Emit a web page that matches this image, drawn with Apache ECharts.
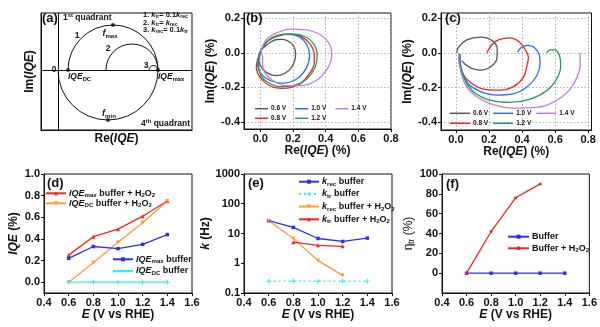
<!DOCTYPE html>
<html><head><meta charset="utf-8">
<script src="https://cdn.jsdelivr.net/npm/echarts@6/dist/echarts.min.js"></script>
<style>html,body{margin:0;padding:0;background:#fff}#c{width:600px;height:327px}</style>
</head><body><div id="c"></div>
<script>
// ================= DATA =================
// (a) schematic: arcs [centre on Re axis, radius, half (1 = upper, -1 = lower)]
const aArcs = [[0.55, 0.45, 1], [0.50, 0.50, -1], [0.74, 0.26, 1], [0.955, 0.045, 1]];
// (a) marked points: IQE_DC, f_max, IQE_max, f_min
const aPoints = [[0.10, 0], [0.55, 0.45], [1.00, 0], [0.50, -0.50]];

// (b) Re/Im(IQE) loops, buffer
const b06 = [[0.0,0.01],[-0.012,-0.035],[0.012,-0.09],[0.05,-0.12],[0.097,-0.132],[0.15,-0.118],[0.19,-0.085],[0.212,-0.04],[0.216,-0.006],[0.205,0.038],[0.175,0.065],[0.135,0.078],[0.1,0.077],[0.06,0.06],[0.02,0.03],[0.0,0.01]];
const b08 = [[0.005,0.01],[0.045,0.07],[0.1,0.1],[0.18,0.11],[0.25,0.095],[0.305,0.05],[0.33,-0.01],[0.33,-0.06],[0.3,-0.12],[0.25,-0.175],[0.19,-0.2],[0.13,-0.205],[0.07,-0.195],[0.02,-0.165],[-0.015,-0.12],[-0.025,-0.08],[-0.015,-0.035],[0.005,0.01]];
const b10 = [[0.005,0.015],[0.035,0.062],[0.097,0.095],[0.17,0.108],[0.24,0.092],[0.285,0.045],[0.302,-0.015],[0.28,-0.09],[0.225,-0.15],[0.14,-0.175],[0.06,-0.16],[0.005,-0.122],[-0.016,-0.073],[-0.01,-0.025],[0.005,0.015]];
const b12 = [[0.005,0.015],[0.056,0.075],[0.128,0.102],[0.21,0.108],[0.282,0.09],[0.333,0.043],[0.348,-0.015],[0.335,-0.083],[0.285,-0.15],[0.2,-0.19],[0.118,-0.195],[0.045,-0.17],[0.004,-0.132],[-0.01,-0.073],[-0.006,-0.025],[0.005,0.015]];
const b14 = [[0.005,0.01],[0.035,0.075],[0.097,0.114],[0.18,0.137],[0.28,0.133],[0.375,0.1],[0.427,0.043],[0.437,-0.015],[0.416,-0.083],[0.355,-0.151],[0.262,-0.188],[0.16,-0.19],[0.076,-0.16],[0.025,-0.112],[0.014,-0.064],[0.014,-0.025],[0.005,0.01]];

// (c) Re/Im(IQE) curves, buffer + H2O2
const c06 = [[0.005,0.0],[0.016,0.033],[0.066,0.075],[0.147,0.091],[0.217,0.072],[0.25,0.023],[0.247,-0.035],[0.207,-0.083],[0.147,-0.1],[0.096,-0.09],[0.056,-0.066],[0.035,-0.045]];
const c08 = [[0.187,0.0],[0.22,0.05],[0.26,0.077],[0.328,0.087],[0.38,0.066],[0.415,0.025],[0.438,-0.025],[0.428,-0.083],[0.408,-0.141],[0.348,-0.195],[0.268,-0.215],[0.167,-0.209],[0.086,-0.17],[0.036,-0.112],[0.022,-0.044],[0.018,-0.006]];
const c10 = [[0.372,0.004],[0.398,0.033],[0.438,0.043],[0.479,0.027],[0.505,-0.015],[0.509,-0.064],[0.489,-0.132],[0.438,-0.19],[0.358,-0.234],[0.247,-0.244],[0.147,-0.222],[0.076,-0.18],[0.04,-0.112],[0.026,-0.044],[0.026,-0.006]];
const c12 = [[0.549,0.0],[0.569,0.017],[0.599,0.017],[0.626,-0.015],[0.634,-0.073],[0.609,-0.151],[0.549,-0.219],[0.449,-0.267],[0.328,-0.286],[0.207,-0.273],[0.111,-0.228],[0.056,-0.16],[0.03,-0.083],[0.022,-0.015]];
const c14 = [[0.75,0.0],[0.752,-0.064],[0.734,-0.137],[0.686,-0.215],[0.6,-0.28],[0.489,-0.315],[0.348,-0.319],[0.217,-0.296],[0.117,-0.248],[0.056,-0.18],[0.026,-0.093],[0.016,-0.025],[0.016,0.0]];

// (d)-(f) potentials
const E5 = [0.6, 0.8, 1.0, 1.2, 1.4];
const E4 = [0.6, 0.8, 1.0, 1.2];
const E3 = [0.8, 1.0, 1.2];
// (d) IQE (%)
const dMaxH2O2 = [0.25, 0.42, 0.49, 0.61, 0.75];
const dDcH2O2  = [0.00, 0.18, 0.37, 0.55, 0.75];
const dMaxBuf  = [0.22, 0.33, 0.31, 0.35, 0.44];
const dDcBuf   = [0.00, 0.00, 0.00, 0.00, 0.00];
// (e) k (Hz)
const eKrecBuf  = [27, 16, 6.8, 5.4, 7.0];
const eKtrBuf   = [0.25, 0.25, 0.25, 0.25, 0.25];
const eKrecH2O2 = [27, 6.8, 1.23, 0.39];
const eKtrH2O2  = [5.1, 4.0, 3.7];
// (f) eta_tr (%)
const fBuf  = [0, 0, 0, 0, 0];
const fH2O2 = [0, 42, 76, 90];

// tick labels
const xTicksRe = [0, 0.2, 0.4, 0.6, 0.8];
const yTicksIm = [0.2, 0, -0.2, -0.4];
const yTicksD  = [0, 0.2, 0.4, 0.6, 0.8, 1.0];
const yTicksF  = [0, 20, 40, 60, 80, 100];

// ================= STYLE =================
const FONT = '"Liberation Sans", Arial, Helvetica, sans-serif';
const INK = '#111111';
const COL = {gray:'#555555', red:'#f02424', blue:'#2b6cf0', green:'#1e9e50', purple:'#c07ee0',
             orange:'#ff9a30', cyan:'#30eef0', vblue:'#2f2fe8'};

function R(fs, w) {
  w = w || 'bold';
  const L = Math.round(fs * 1.25), sf = Math.round(fs * 0.68 * 10) / 10, SL = Math.round(fs * 0.62);
  const base = {fontFamily: FONT, fontWeight: w, color: INK, fill: INK};
  return {
    n: Object.assign({}, base, {fontSize: fs, lineHeight: L}),
    i: Object.assign({}, base, {fontSize: fs, lineHeight: L, fontStyle: 'italic'}),
    s: Object.assign({}, base, {fontSize: sf, lineHeight: SL, verticalAlign: 'bottom'}),
    p: Object.assign({}, base, {fontSize: sf, lineHeight: SL, verticalAlign: 'top'})
  };
}

const G = [
  {left: 41,  top: 13,  width: 151,   height: 117},
  {left: 244, top: 13,  width: 147,   height: 116},
  {left: 441, top: 13,  width: 150.5, height: 117},
  {left: 44,  top: 174, width: 148,   height: 119},
  {left: 244, top: 174, width: 148,   height: 119},
  {left: 442, top: 174, width: 148.5, height: 119}
].map(g => Object.assign({show: true, borderColor: INK, borderWidth: 1, containLabel: false}, g));

function ax(o) {
  const base = {
    type: 'value', nameLocation: 'middle',
    axisLine: {show: true, onZero: false, lineStyle: {color: INK, width: 1}},
    axisTick: {show: true, inside: false, length: 3, lineStyle: {color: INK, width: 1}},
    axisLabel: {show: true, margin: 4, color: INK, fontSize: 11, fontWeight: 'bold', fontFamily: FONT},
    splitLine: {show: false},
    nameTextStyle: {rich: R(12)}
  };
  for (const k in o) {
    if (base[k] && typeof base[k] === 'object' && typeof o[k] === 'object' && !Array.isArray(o[k]))
      base[k] = Object.assign({}, base[k], o[k]);
    else base[k] = o[k];
  }
  return base;
}
const f1 = v => (+v).toFixed(1);
const dotted = {show: true, lineStyle: {color: '#b0b0b0', type: [1.5, 2], width: 1}};

const xAxis = [
  ax({gridIndex: 0, min: -0.17, max: 1.34, axisTick: {show: false}, axisLabel: {show: false},
      name: '{n|Re(}{i|IQE}{n|)}', nameGap: 1.5}),
  ax({gridIndex: 1, min: -0.1, max: 0.8, axisTick: {customValues: xTicksRe}, axisLabel: {customValues: xTicksRe, formatter: f1},
      splitLine: dotted, name: '{n|Re(}{i|IQE}{n|) (%)}', nameGap: 13}),
  ax({gridIndex: 2, min: -0.09, max: 0.82, axisTick: {customValues: xTicksRe}, axisLabel: {customValues: xTicksRe, formatter: f1},
      splitLine: dotted, name: '{n|Re(}{i|IQE}{n|) (%)}', nameGap: 11}),
  ax({gridIndex: 3, min: 0.4, max: 1.6, interval: 0.2, axisLabel: {formatter: f1}, name: '{i|E}{n| (V vs RHE)}', nameGap: 9.5}),
  ax({gridIndex: 4, min: 0.4, max: 1.6, interval: 0.2, axisLabel: {formatter: f1}, name: '{i|E}{n| (V vs RHE)}', nameGap: 9.5}),
  ax({gridIndex: 5, min: 0.4, max: 1.6, interval: 0.2, axisLabel: {formatter: f1}, name: '{i|E}{n| (V vs RHE)}', nameGap: 9.5})
];
const yAxis = [
  ax({gridIndex: 0, min: -0.60, max: 0.57, axisTick: {show: false}, axisLabel: {show: false},
      name: '{n|Im(}{i|IQE}{n|)}', nameGap: 3.5}),
  ax({gridIndex: 1, min: -0.44, max: 0.23, axisTick: {customValues: yTicksIm}, axisLabel: {customValues: yTicksIm, formatter: f1},
      splitLine: dotted, name: '{n|Im(}{i|IQE}{n|) (%)}', nameGap: 23}),
  ax({gridIndex: 2, min: -0.445, max: 0.23, axisTick: {customValues: yTicksIm}, axisLabel: {customValues: yTicksIm, formatter: f1},
      splitLine: dotted, name: '{n|Im(}{i|IQE}{n|) (%)}', nameGap: 21.5}),
  ax({gridIndex: 3, min: -0.1, max: 1.0, axisTick: {customValues: yTicksD}, axisLabel: {customValues: yTicksD, formatter: f1},
      name: '{i|IQE}{n| (%)}', nameGap: 23}),
  ax({gridIndex: 4, type: 'log', logBase: 10, min: 0.1, max: 1000,
      axisLabel: {formatter: v => (v >= 1 ? String(Math.round(v)) : String(+(+v).toFixed(1)))},
      minorTick: {show: false}, name: '{i|k}{n| (Hz)}', nameGap: 23}),
  ax({gridIndex: 5, min: -20, max: 100, interval: 20, axisTick: {customValues: yTicksF}, axisLabel: {customValues: yTicksF},
      name: '{n|η}{s|tr}{n| (%)}', nameTextStyle: {rich: R(12, 'normal')}, nameGap: 18})
];

const zip = (xs, ys) => xs.map((x, i) => [x, ys[i]]);
const line = (name, gi, data, color, extra) => Object.assign({
  type: 'line', name, xAxisIndex: gi, yAxisIndex: gi, data, color,
  lineStyle: {width: 1.3, color}, itemStyle: {color}, symbol: 'none', smooth: false,
  animation: false, silent: true, z: 3
}, extra || {});
const loop = {smooth: 0.35, symbol: 'none'};
const PLUS = 'path://M4,0H6V4H10V6H6V10H4V6H0V4H4Z';

const series = [
  // (a)
  {type: 'custom', xAxisIndex: 0, yAxisIndex: 0, data: aArcs, silent: true, animation: false,
   encode: {x: 0, y: 1},
   renderItem: (p, api) => {
     const c = api.coord([api.value(0), 0]);
     const r = api.size([api.value(1), 0])[0];
     const up = api.value(2) > 0;
     return {type: 'arc', shape: {cx: c[0], cy: c[1], r, startAngle: up ? Math.PI : 0,
             endAngle: up ? 2 * Math.PI : Math.PI, clockwise: true},
             style: {stroke: INK, fill: 'none', lineWidth: 1}};
   }},
  {type: 'scatter', xAxisIndex: 0, yAxisIndex: 0, data: aPoints, symbolSize: 4, itemStyle: {color: INK},
   silent: true, animation: false, z: 4,
   markLine: {symbol: 'none', silent: true, animation: false, label: {show: false},
              lineStyle: {color: INK, width: 1, type: 'solid'}, data: [{xAxis: 0}, {yAxis: 0}]}},
  // (b)
  line('b0.6 V', 1, b06, COL.gray, loop), line('b0.8 V', 1, b08, COL.red, loop),
  line('b1.0 V', 1, b10, COL.blue, loop), line('b1.2 V', 1, b12, COL.green, loop),
  line('b1.4 V', 1, b14, COL.purple, loop),
  // (c)
  line('c0.6 V', 2, c06, COL.gray, loop), line('c0.8 V', 2, c08, COL.red, loop),
  line('c1.0 V', 2, c10, COL.blue, loop), line('c1.2 V', 2, c12, COL.green, loop),
  line('c1.4 V', 2, c14, COL.purple, loop),
  // (d)
  line('dMaxH', 3, zip(E5, dMaxH2O2), COL.red, {symbol: 'triangle', symbolSize: 4}),
  line('dDcH', 3, zip(E5, dDcH2O2), COL.orange, {symbol: 'triangle', symbolRotate: 180, symbolSize: 4}),
  line('dMaxB', 3, zip(E5, dMaxBuf), COL.vblue, {symbol: 'rect', symbolSize: 3.5}),
  line('dDcB', 3, zip(E5, dDcBuf), COL.cyan, {symbol: PLUS, symbolSize: 5}),
  // (e)
  line('eKrecB', 4, zip(E5, eKrecBuf), COL.vblue, {symbol: 'rect', symbolSize: 3.5}),
  line('eKtrB', 4, zip(E5, eKtrBuf), COL.cyan, {symbol: PLUS, symbolSize: 5, lineStyle: {width: 1.3, color: COL.cyan, type: [2, 3]}}),
  line('eKrecH', 4, zip(E4, eKrecH2O2), COL.orange, {symbol: 'triangle', symbolRotate: 180, symbolSize: 4}),
  line('eKtrH', 4, zip(E3, eKtrH2O2), COL.red, {symbol: 'triangle', symbolSize: 4}),
  // (f)
  line('fB', 5, zip(E5, fBuf), COL.vblue, {symbol: 'rect', symbolSize: 3.5}),
  line('fH', 5, zip(E4, fH2O2), COL.red, {symbol: 'circle', symbolSize: 3})
];

const LBL = {
  dMaxH: '{i|IQE}{s|max}{n| buffer + H}{s|2}{n|O}{s|2}',
  dDcH: '{i|IQE}{s|DC}{n| buffer + H}{s|2}{n|O}{s|2}',
  dMaxB: '{i|IQE}{s|max}{n| buffer}',
  dDcB: '{i|IQE}{s|DC}{n| buffer}',
  eKrecB: '{i|k}{s|rec}{n| buffer}',
  eKtrB: '{i|k}{s|tr}{n| buffer}',
  eKrecH: '{i|k}{s|rec}{n| buffer + H}{s|2}{n|O}{s|2}',
  eKtrH: '{i|k}{s|tr}{n| buffer + H}{s|2}{n|O}{s|2}',
  fB: '{n|Buffer}',
  fH: '{n|Buffer + H}{s|2}{n|O}{s|2}'
};
function leg(names, left, cy, fs, iw, ih, gap, icon) {
  const L = Math.round(fs * 1.25);
  const o = {
    data: names, left, top: cy - L / 2, orient: 'horizontal', padding: 0,
    itemWidth: iw, itemHeight: ih, itemGap: gap, selectedMode: false,
    formatter: n => LBL[n] || ('{n|' + n.slice(1) + '}'),
    textStyle: {rich: R(fs), fontSize: fs, lineHeight: L, padding: [0, 0, 0, -2]}
  };
  if (icon) o.icon = icon;
  return o;
}
const legend = [
  leg(['b0.6 V', 'b1.0 V', 'b1.4 V'], 255, 108.7, 6.5, 13, 1.5, 9, 'rect'),
  leg(['b0.8 V', 'b1.2 V'], 255, 118.3, 6.5, 13, 1.5, 9, 'rect'),
  leg(['c0.6 V', 'c1.0 V', 'c1.4 V'], 450, 113.3, 6.5, 20, 1.5, 5, 'rect'),
  leg(['c0.8 V', 'c1.2 V'], 450, 123.3, 6.5, 20, 1.5, 5, 'rect'),
  leg(['dMaxH'], 45, 193.3, 9, 20, 5), leg(['dDcH'], 45, 203.3, 9, 20, 5),
  leg(['dMaxB'], 112, 259.3, 9, 20, 5), leg(['dDcB'], 112, 271, 9, 20, 5),
  leg(['eKrecB'], 298, 181.7, 9, 20, 5), leg(['eKtrB'], 298, 194, 9, 20, 5),
  leg(['eKrecH'], 298, 206.5, 9, 20, 5), leg(['eKtrH'], 298, 219.3, 9, 20, 5),
  leg(['fB'], 507, 236.7, 9, 21, 5), leg(['fH'], 507, 248.3, 9, 21, 5)
];

function T(x, y, text, fs, align, va, w) {
  return {type: 'text', x, y, silent: true, z: 10,
          style: {text, rich: R(fs, w), align: align || 'left', verticalAlign: va || 'middle', fill: INK,
                  fontSize: fs, fontFamily: FONT, fontWeight: 'bold'}};
}
const graphic = [
  T(42, 18.5, '{n|(a)}', 13), T(246, 18.5, '{n|(b)}', 13), T(445, 18.5, '{n|(c)}', 13),
  T(47, 183.5, '{n|(d)}', 13), T(248, 183.5, '{n|(e)}', 13), T(446, 184, '{n|(f)}', 13),
  T(63, 17.5, '{n|1}{p|st}{n| quadrant}', 8.5),
  T(190, 124, '{n|4}{p|th}{n| quadrant}', 8.5, 'right'),
  T(143, 15, '{n|1. }{i|k}{s|tr}{n|= 0.1}{i|k}{s|rec}', 7.5),
  T(143, 22.5, '{n|2. }{i|k}{s|tr}{n|= }{i|k}{s|rec}', 7.5),
  T(143, 30, '{n|3. }{i|k}{s|rec}{n|= 0.1}{i|k}{s|tr}', 7.5),
  T(110, 33.5, '{i|f}{s|max}', 9, 'center'),
  T(109, 113.5, '{i|f}{s|min}', 9, 'center'),
  T(68, 76.5, '{i|IQE}{s|DC}', 8.5),
  T(158, 76.5, '{i|IQE}{s|max}', 8.5),
  T(56.5, 70, '{n|0}', 8.5, 'right'),
  T(77, 36, '{n|1}', 8.5, 'center'),
  T(108, 49, '{n|2}', 8.5, 'center'),
  T(146, 66, '{n|3}', 8.5, 'center')
];

const chart = echarts.init(document.getElementById('c'), null, {renderer: 'canvas'});
chart.setOption({animation: false, backgroundColor: '#fff', grid: G, xAxis, yAxis, series, legend, graphic});
</script></body></html>
